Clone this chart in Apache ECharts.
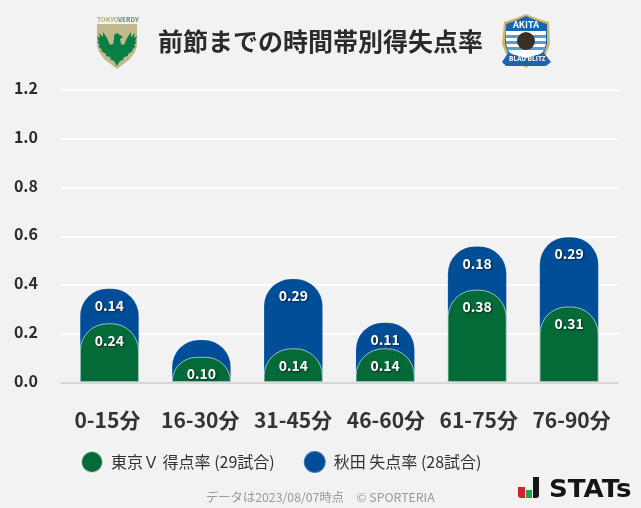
<!DOCTYPE html>
<html><head><meta charset="utf-8">
<style>html,body{margin:0;padding:0;background:#f2f2f2}#c{width:641px;height:508px}</style>
<script src="https://cdn.jsdelivr.net/npm/echarts@6/dist/echarts.min.js"></script>
</head><body><div id="c"></div>
<script>
const categories = ['0-15分','16-30分','31-45分','46-60分','61-75分','76-90分'];
const tokyoFor = [0.241,0.103,0.138,0.138,0.379,0.310];
const akitaAgainst = [0.143,0.071,0.286,0.107,0.179,0.286];
const hiddenLabels = [0.071];
const yTicks = {min:0,max:1.2,interval:0.2};
const titleText = '前節までの時間帯別得失点率';
const tokyoName = '東京Ｖ 得点率 (29試合)';
const akitaName = '秋田 失点率 (28試合)';
const footerText = 'データは2023/08/07時点　© SPORTERIA';
const font = '"Noto Sans CJK JP","Noto Sans",sans-serif';
const GREEN='#046a38', BLUE='#004e98';
const eagleHalf = [[0,33],[3,35],[6,37],[3,39],[4,44],[7,45],[10,38],[14,32],[14,37],[18,33],[17,38],[20,36],[18,42],[20,41],[17,46],[19,46],[15,50],[16,51],[11,54],[11,56],[7,57],[6,60],[3,61],[0,66]];
const eagle = eagleHalf.map(p=>[117+p[0],p[1]]).concat(eagleHalf.slice(4,-1).reverse().map(p=>[117-p[0],p[1]]),[[114,39],[114,35]]);
const chart = echarts.init(document.getElementById('c'),null,{renderer:'canvas'});
const barLabel = {show:true,position:'insideTop',distance:10,color:'#fff',fontFamily:font,fontWeight:'bold',fontSize:14,
  textShadowColor:'rgba(0,0,0,0.6)',textShadowBlur:2,textShadowOffsetX:1,textShadowOffsetY:1};
chart.setOption({
  backgroundColor:'#f2f2f2',
  animation:false,
  textStyle:{fontFamily:font},
  grid:[
    {left:61,right:23,top:90,bottom:125.5},
    {left:63.5,right:26,top:90,bottom:126}
  ],
  legend:{left:80,top:450,padding:0,itemWidth:22,itemHeight:22,itemGap:28,icon:'circle',
    data:[tokyoName,akitaName],
    textStyle:{fontFamily:font,fontSize:16,color:'#333',padding:[0,0,0,3]}},
  xAxis:[
    {type:'category',gridIndex:0,data:categories,splitLine:{show:false},axisTick:{show:false},
     axisLine:{show:true,lineStyle:{color:'#d6d6d6',width:2}},z:1,
     axisLabel:{interval:0,color:'#333',fontFamily:font,fontWeight:'bold',fontSize:21,margin:27}},
    {type:'category',gridIndex:1,data:categories,axisTick:{show:false},axisLine:{show:false},axisLabel:{show:false}}
  ],
  yAxis:[
    {type:'value',gridIndex:0,min:yTicks.min,max:yTicks.max,interval:yTicks.interval,
     axisLine:{show:false},axisTick:{show:false},
     splitLine:{lineStyle:{color:'#ffffff',width:2}},
     axisLabel:{color:'#2b2b2b',fontFamily:font,fontWeight:'bold',fontSize:16,margin:23,verticalAlign:'bottom',lineHeight:4,formatter:v=>v.toFixed(1)}},
    {type:'value',gridIndex:1,min:yTicks.min,max:yTicks.max,interval:yTicks.interval,show:false}
  ],
  series:[
    {name:akitaName,type:'bar',xAxisIndex:1,yAxisIndex:1,barWidth:59,barGap:'-100%',z:2,
     data:akitaAgainst.map((v,i)=>({value:+(v+tokyoFor[i]).toFixed(3),raw:v})),
     itemStyle:{color:BLUE,borderRadius:[27,27,0,0],borderColor:'rgba(255,255,255,0.25)',borderWidth:0.5},
     label:Object.assign({},barLabel,{formatter:p=>hiddenLabels.includes(p.data.raw)?'':p.data.raw.toFixed(2)})},
    {name:tokyoName,type:'bar',xAxisIndex:1,yAxisIndex:1,barWidth:59,barGap:'-100%',z:3,
     data:tokyoFor,
     itemStyle:{color:GREEN,borderRadius:[27,27,0,0],borderColor:'rgba(255,255,255,0.75)',borderWidth:0.8},
     label:Object.assign({},barLabel,{formatter:p=>p.value.toFixed(2)})}
  ],
  graphic:[
    {type:'text',x:158,y:29,style:{text:titleText,fontFamily:font,fontWeight:'bold',fontSize:25,fill:'#2b2b2b'}},
    // Tokyo Verdy crest
    {type:'text',x:97,y:16,style:{text:'TOKYO',fontFamily:font,fontWeight:'bold',fontSize:6.5,fill:'#b5a878'}},
    {type:'text',x:118,y:16,style:{text:'VERDY',fontFamily:font,fontWeight:'bold',fontSize:6.5,fill:'#3f9c6a'}},
    {type:'polygon',shape:{points:[[97,24],[137,24],[137,46],[135,52],[130,59],[117,69],[104,59],[99,52],[97,46]]},style:{fill:'#c4b98d'}},
    {type:'polygon',shape:{points:eagle},style:{fill:'#0a7f45'}},
    // Akita crest
    {type:'polygon',shape:{points:[[504,22],[516,18],[526,14],[536,18],[549,22],[550,44],[546,54],[526,68],[506,54],[502,44]]},style:{fill:'#c9b869'}},
    {type:'polygon',shape:{points:[[506,24],[517,20],[526,16],[535,20],[547,24],[547,44],[544,53],[526,65],[508,53],[505,44]]},style:{fill:'#1a64b0'}},
    {type:'polygon',shape:{points:[[506,31],[546,31],[546,44],[543,52],[535,58],[517,58],[509,52],[506,44]]},style:{fill:'#ffffff'}},
    {type:'rect',shape:{x:506,y:35,width:40,height:3},style:{fill:'#4fa0d8'}},
    {type:'rect',shape:{x:506,y:41,width:40,height:3},style:{fill:'#4fa0d8'}},
    {type:'rect',shape:{x:507,y:47,width:38,height:3},style:{fill:'#4fa0d8'}},
    {type:'circle',shape:{cx:526,cy:41,r:9},style:{fill:'#3a3028'}},
    {type:'text',x:513,y:20,style:{text:'AKITA',fontFamily:font,fontWeight:'bold',fontSize:9,fill:'#fff'}},
    {type:'polygon',shape:{points:[[502,62],[508,53],[526,58],[544,53],[551,62],[546,66],[526,66],[506,66]]},style:{fill:'#1a64b0'}},
    {type:'text',x:509,y:55,style:{text:'BLAU BLITZ',fontFamily:font,fontWeight:'bold',fontSize:6.5,fill:'#fff'}},
    // footer
    {type:'text',x:206,y:491,style:{text:footerText,fontFamily:font,fontSize:12.3,fill:'#999'}},
    // STATs mark
    {type:'rect',shape:{x:518,y:487,width:7,height:11,r:[0,0,0,3]},style:{fill:'#d81e2c'}},
    {type:'rect',shape:{x:526,y:490,width:6,height:8},style:{fill:'#1aa64b'}},
    {type:'rect',shape:{x:533,y:477,width:6,height:21,r:[0,0,3,0]},style:{fill:'#151515'}},
    {type:'text',x:549,y:478,scaleX:1.06,style:{text:'STATs',fontFamily:'"DejaVu Sans",sans-serif',fontWeight:'bold',fontSize:24.6,fill:'#151515'}}
  ]
});
</script></body></html>
